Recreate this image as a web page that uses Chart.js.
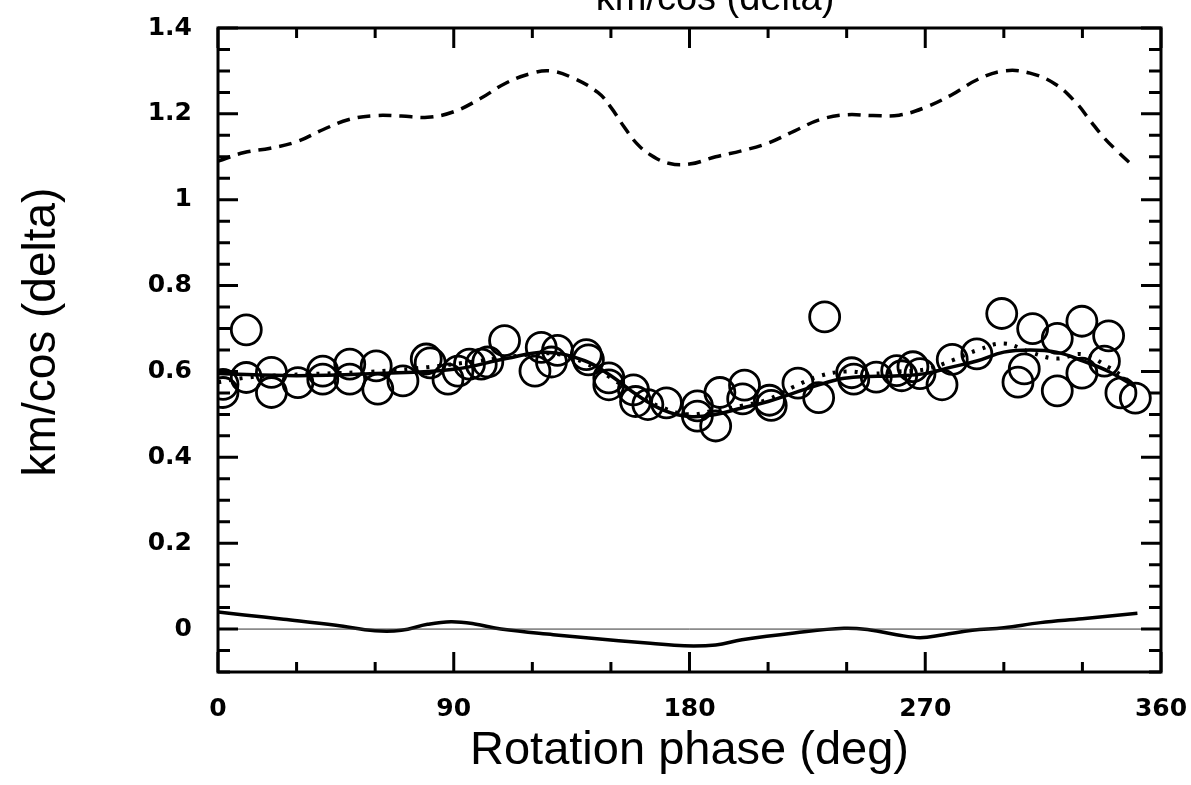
<!DOCTYPE html>
<html>
<head>
<meta charset="utf-8">
<script src="https://cdn.jsdelivr.net/npm/chart.js@4.4.1/dist/chart.umd.min.js"></script>
<style>
  html, body { margin: 0; padding: 0; background: #fff; }
  #wrap { width: 1191px; height: 785px; overflow: hidden; }
</style>
</head>
<body>
<div id="wrap"><canvas id="plot" width="1191" height="785"></canvas></div>
<script>
// axis ticks
var xTicks = [0, 90, 180, 270, 360];
var yTicks = [0, 0.2, 0.4, 0.6, 0.8, 1, 1.2, 1.4];

// observed points (open circles)
var obsPhase = [1.9, 1.9, 10.8, 10.8, 20.4, 20.4, 30.5, 40, 40, 50.3, 50.3, 60.4, 61, 70.6, 79.5, 81,
    87.8, 91.6, 96, 100.5, 103, 109.4, 121, 123.4, 129.6, 127.3, 140.6, 141.4, 149.2, 149.2, 158.6,
    159.4, 164.1, 171.2, 183, 183, 190, 191.6, 201, 200.3, 210.5, 211.2, 221.4, 229.3, 231.6, 241.9,
    242.7, 251.3, 259.1, 261, 265.3, 268, 276.4, 280.3, 289.7, 299.2, 311, 305.4, 307.8, 320.4, 320.4,
    329.8, 329.8, 340, 338.4, 344.7, 350.2];
var obsValue = [0.551, 0.57, 0.697, 0.586, 0.598, 0.551, 0.574, 0.601, 0.582, 0.617, 0.582, 0.613, 0.559,
    0.578, 0.629, 0.62, 0.582, 0.601, 0.617, 0.617, 0.622, 0.672, 0.601, 0.656, 0.649, 0.622, 0.639,
    0.627, 0.585, 0.569, 0.557, 0.53, 0.523, 0.527, 0.496, 0.52, 0.473, 0.551, 0.568, 0.536, 0.533,
    0.521, 0.573, 0.539, 0.727, 0.597, 0.582, 0.587, 0.602, 0.59, 0.611, 0.595, 0.569, 0.628, 0.641,
    0.735, 0.70, 0.575, 0.606, 0.677, 0.555, 0.717, 0.596, 0.683, 0.624, 0.55, 0.538];

// upper dashed curve
var dashPhase = [0, 10, 20, 30, 40, 50, 60, 70, 80, 90, 100, 110, 120, 127, 135, 145, 150, 155, 160, 165,
    172, 180, 190, 200, 210, 220, 230, 240, 250, 260, 270, 280, 290, 300, 310, 320, 328, 333, 338, 343, 350];
var dashValue = [1.09, 1.11, 1.12, 1.135, 1.163, 1.187, 1.196, 1.195, 1.192, 1.205, 1.235, 1.272, 1.295,
    1.30, 1.285, 1.25, 1.215, 1.17, 1.13, 1.105, 1.085, 1.083, 1.10, 1.114, 1.132, 1.16, 1.187, 1.198,
    1.196, 1.197, 1.215, 1.244, 1.28, 1.30, 1.295, 1.268, 1.223, 1.184, 1.146, 1.115, 1.075];

// solid model curve through the points
var fitPhase = [0, 30, 60, 90, 110, 125, 140, 150, 160, 170, 180, 190, 200, 210, 220, 230, 240, 260, 270,
    280, 290, 300, 310, 320, 330, 340, 350];
var fitValue = [0.595, 0.59, 0.595, 0.605, 0.63, 0.645, 0.625, 0.59, 0.545, 0.51, 0.495, 0.5, 0.515, 0.53,
    0.55, 0.57, 0.585, 0.59, 0.595, 0.61, 0.625, 0.645, 0.65, 0.645, 0.625, 0.6, 0.565];

// dotted model curve
var dotPhase = [0, 10, 20, 40, 60, 80, 100, 120, 130, 140, 150, 160, 170, 180, 190, 200, 210, 220, 230,
    240, 250, 260, 270, 280, 290, 300, 310, 320, 330, 340, 345, 350];
var dotValue = [0.575, 0.585, 0.59, 0.595, 0.6, 0.61, 0.625, 0.64, 0.64, 0.62, 0.585, 0.545, 0.515, 0.5,
    0.51, 0.52, 0.535, 0.565, 0.59, 0.6, 0.595, 0.6, 0.605, 0.625, 0.65, 0.665, 0.645, 0.63, 0.64, 0.61,
    0.59, 0.565];

// residual curve near zero
var residPhase = [0, 10, 25, 45, 60, 70, 80, 89, 98, 108, 128, 153, 165, 178, 190, 200, 220, 239, 249,
    259, 268, 277, 288, 300, 314, 330, 351];
var residValue = [0.04, 0.033, 0.023, 0.009, -0.004, -0.003, 0.011, 0.017, 0.012, 0, -0.013, -0.027,
    -0.033, -0.039, -0.037, -0.025, -0.009, 0.002, -0.002, -0.013, -0.02, -0.013, -0.003, 0.003, 0.015,
    0.024, 0.037];

var zeroPhase = [0, 360];
var zeroValue = [0, 0];

function pts(xs, ys) {
    return xs.map(function (x, i) { return { x: x, y: ys[i] }; });
}

var font = "'Liberation Sans', Arial, sans-serif";
var tickFont = { family: "'DejaVu Sans', sans-serif", size: 25, weight: "bold" };

// frame, inward ticks on all four sides and the clipped title
var framePlugin = {
    id: "frame",
    afterDraw: function (chart) {
        var ctx = chart.ctx, a = chart.chartArea;
        var xs = chart.scales.x, ys = chart.scales.y;
        ctx.save();
        ctx.strokeStyle = "#000";
        ctx.lineWidth = 3;
        ctx.strokeRect(a.left, a.top, a.right - a.left, a.bottom - a.top);
        ctx.beginPath();
        for (var v = 0; v <= 360; v += 30) {
            var px = xs.getPixelForValue(v);
            var len = v % 90 === 0 ? 20 : 10;
            ctx.moveTo(px, a.bottom); ctx.lineTo(px, a.bottom - len);
            ctx.moveTo(px, a.top); ctx.lineTo(px, a.top + len);
        }
        for (var k = -2; k <= 28; k++) {
            var py = ys.getPixelForValue(k * 0.05);
            var l2 = k % 4 === 0 ? 20 : 12;
            ctx.moveTo(a.left, py); ctx.lineTo(a.left + l2, py);
            ctx.moveTo(a.right, py); ctx.lineTo(a.right - l2, py);
        }
        ctx.stroke();
        ctx.fillStyle = "#000";
        ctx.font = "38px " + font;
        ctx.textAlign = "center";
        ctx.textBaseline = "alphabetic";
        ctx.fillText("km/cos (delta)", 715, 10);
        // y axis title, a little above the middle as in the original
        ctx.translate(42, 332);
        ctx.rotate(-Math.PI / 2);
        ctx.textBaseline = "middle";
        ctx.font = "46px " + font;
        ctx.fillText("km/cos (delta)", 0, 0);
        ctx.restore();
    }
};

function noPad(s) {
    s.paddingTop = 0; s.paddingBottom = 0; s.paddingLeft = 0; s.paddingRight = 0;
}

new Chart(document.getElementById("plot"), {
    type: "scatter",
    data: {
        datasets: [
            {
                label: "zero", data: pts(zeroPhase, zeroValue), showLine: true,
                borderColor: "#333", borderWidth: 1, pointRadius: 0
            },
            {
                label: "dashed", data: pts(dashPhase, dashValue), showLine: true,
                borderColor: "#000", borderWidth: 3.5, borderDash: [13, 8], pointRadius: 0, tension: 0.4
            },
            {
                label: "fit", data: pts(fitPhase, fitValue), showLine: true,
                borderColor: "#000", borderWidth: 3.5, pointRadius: 0, tension: 0.4
            },
            {
                label: "dotted", data: pts(dotPhase, dotValue), showLine: true,
                borderColor: "#000", borderWidth: 4, borderDash: [3, 8], pointRadius: 0, tension: 0.4
            },
            {
                label: "residual", data: pts(residPhase, residValue), showLine: true,
                borderColor: "#000", borderWidth: 3.5, pointRadius: 0, tension: 0.4
            },
            {
                label: "observed", data: pts(obsPhase, obsValue), showLine: false,
                pointRadius: 15, pointBorderWidth: 2.8, pointBorderColor: "#000",
                pointBackgroundColor: "rgba(0,0,0,0)"
            }
        ]
    },
    options: {
        responsive: false,
        animation: false,
        layout: { padding: { top: 28, right: 30, left: 0, bottom: 0 } },
        plugins: { legend: { display: false }, tooltip: { enabled: false } },
        scales: {
            x: {
                type: "linear", min: 0, max: 360,
                afterBuildTicks: function (s) { s.ticks = xTicks.map(function (v) { return { value: v }; }); },
                afterFit: function (s) { s.height = 113; noPad(s); },
                grid: { display: false }, border: { display: false },
                ticks: { color: "#000", padding: 14, maxRotation: 0, font: tickFont },
                title: { display: true, text: "Rotation phase (deg)", color: "#000", padding: { top: 0, bottom: 6 },
                    font: { family: font, size: 47 } }
            },
            y: {
                type: "linear", min: -0.1, max: 1.4,
                afterBuildTicks: function (s) { s.ticks = yTicks.map(function (v) { return { value: v }; }); },
                afterFit: function (s) { s.width = 218; noPad(s); },
                grid: { display: false }, border: { display: false },
                ticks: { color: "#000", padding: 18, font: tickFont,
                    callback: function (v) { return String(Math.round(v * 10) / 10); } },
                title: { display: false }
            }
        }
    },
    plugins: [framePlugin]
});
</script>
</body>
</html>
